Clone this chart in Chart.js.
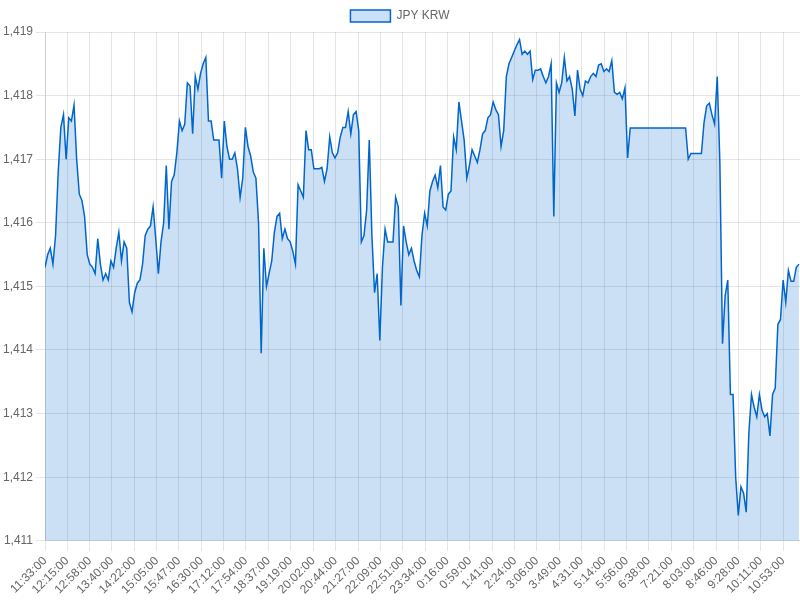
<!DOCTYPE html>
<html>
<head>
<meta charset="utf-8">
<title>JPY KRW</title>
<script src="https://cdn.jsdelivr.net/npm/chart.js@4.4.0/dist/chart.umd.min.js"></script>
<style>
  html, body { margin: 0; padding: 0; background: #fff; }
  #wrap { width: 800px; height: 600px; }
</style>
</head>
<body>
<div id="wrap"><canvas id="rateChart"></canvas></div>
<script>
// Series starts at 11:33:00, one value every 5 minutes, for about 24 hours
const startTime = '11:33:00';
const stepMinutes = 5;
const spanMinutes = 1432;

// Time labels shown under the x axis
const tickLabels = [
  '11:33:00', '12:15:00', '12:58:00', '13:40:00', '14:22:00', '15:05:00', '15:47:00',
  '16:30:00', '17:12:00', '17:54:00', '18:37:00', '19:19:00', '20:02:00', '20:44:00',
  '21:27:00', '22:09:00', '22:51:00', '23:34:00', '0:16:00', '0:59:00', '1:41:00',
  '2:24:00', '3:06:00', '3:49:00', '4:31:00', '5:14:00', '5:56:00', '6:38:00',
  '7:21:00', '8:03:00', '8:46:00', '9:28:00', '10:11:00', '10:53:00'
];

const yTicks = [1411, 1412, 1413, 1414, 1415, 1416, 1417, 1418, 1419];

// JPY KRW rate
const jpyKrw = [
  1415.3, 1415.5, 1415.6, 1415.35, 1415.8, 1416.8, 1417.5, 1417.7, 1417.0, 1417.65,
  1417.6, 1417.85, 1417.0, 1416.45, 1416.35, 1416.1, 1415.5, 1415.35, 1415.3, 1415.2,
  1415.75, 1415.35, 1415.1, 1415.2, 1415.1, 1415.4, 1415.3, 1415.6, 1415.85, 1415.4,
  1415.7, 1415.6, 1414.75, 1414.6, 1414.9, 1415.05, 1415.1, 1415.35, 1415.8, 1415.9,
  1415.95, 1416.25, 1415.75, 1415.2, 1415.7, 1416.0, 1416.9, 1415.9, 1416.65, 1416.75,
  1417.1, 1417.6, 1417.45, 1417.55, 1418.2, 1418.15, 1417.4, 1418.3, 1418.1, 1418.35,
  1418.5, 1418.6, 1417.6, 1417.6, 1417.3, 1417.3, 1417.3, 1416.7, 1417.6, 1417.2,
  1417.0, 1417.0, 1417.1, 1416.85, 1416.4, 1416.7, 1417.5, 1417.2, 1417.05, 1416.8,
  1416.7, 1416.0, 1413.95, 1415.6, 1415.0, 1415.2, 1415.4, 1415.85, 1416.1, 1416.15,
  1415.75, 1415.9, 1415.75, 1415.7, 1415.55, 1415.35, 1416.6, 1416.5, 1416.4, 1417.45,
  1417.15, 1417.15, 1416.85, 1416.85, 1416.85, 1416.87, 1416.65, 1416.85, 1417.35, 1417.1,
  1417.02, 1417.1, 1417.35, 1417.5, 1417.5, 1417.75, 1417.4, 1417.7, 1417.75, 1417.45,
  1415.7, 1415.8, 1416.2, 1417.3, 1415.8, 1414.9, 1415.2, 1414.15, 1415.3, 1415.9,
  1415.7, 1415.7, 1415.7, 1416.4, 1416.25, 1414.7, 1415.95, 1415.7, 1415.5, 1415.6,
  1415.4, 1415.25, 1415.15, 1415.8, 1416.15, 1415.95, 1416.5, 1416.65, 1416.75, 1416.55,
  1416.9, 1416.25, 1416.2, 1416.45, 1416.5, 1417.35, 1417.15, 1417.9, 1417.6, 1417.3,
  1416.7, 1416.9, 1417.15, 1417.05, 1416.95, 1417.15, 1417.4, 1417.45, 1417.65, 1417.7,
  1417.9, 1417.78, 1417.7, 1417.2, 1417.45, 1418.3, 1418.5, 1418.6, 1418.7, 1418.8,
  1418.88, 1418.65, 1418.7, 1418.65, 1418.7, 1418.25, 1418.4, 1418.4, 1418.42, 1418.3,
  1418.2, 1418.3, 1418.5, 1416.1, 1418.2, 1418.05, 1418.2, 1418.6, 1418.23, 1418.3,
  1418.1, 1417.68, 1418.4, 1418.1, 1418.0, 1418.23, 1418.2, 1418.3, 1418.35, 1418.3,
  1418.48, 1418.5, 1418.38, 1418.42, 1418.38, 1418.55, 1418.05, 1418.02, 1418.05, 1417.95,
  1418.12, 1417.02, 1417.49, 1417.49, 1417.49, 1417.49, 1417.49, 1417.49, 1417.49, 1417.49,
  1417.49, 1417.49, 1417.49, 1417.49, 1417.49, 1417.49, 1417.49, 1417.49, 1417.49, 1417.49,
  1417.49, 1417.49, 1417.49, 1417.49, 1417.0, 1417.09, 1417.09, 1417.09, 1417.09, 1417.09,
  1417.58, 1417.84, 1417.88, 1417.7, 1417.55, 1418.3, 1416.95, 1414.1, 1414.85, 1415.1,
  1413.3, 1413.3, 1412.0, 1411.4, 1411.85, 1411.75, 1411.45, 1412.7, 1413.3, 1413.1,
  1412.95, 1413.3, 1413.05, 1412.95, 1413.0, 1412.65, 1413.3, 1413.4, 1414.4, 1414.48,
  1415.1, 1414.75, 1415.25, 1415.08, 1415.08, 1415.3, 1415.35
];

// minutes after the start time, wrapping past midnight
function minutesFromStart(label) {
  const toMin = (s) => {
    const parts = s.split(':');
    return parseInt(parts[0], 10) * 60 + parseInt(parts[1], 10);
  };
  return (toMin(label) - toMin(startTime) + 1440) % 1440;
}

const tickMinutes = tickLabels.map(minutesFromStart);

const points = jpyKrw.map((v, i) => ({ x: i * stepMinutes, y: v }));

Chart.defaults.font.family = "'Helvetica Neue', Helvetica, Arial, 'Liberation Sans', sans-serif";
Chart.defaults.font.size = 12;
Chart.defaults.color = '#666';

const ctx = document.getElementById('rateChart').getContext('2d');
new Chart(ctx, {
  type: 'line',
  data: {
    datasets: [{
      label: 'JPY KRW',
      data: points,
      borderColor: 'rgb(0, 102, 204)',
      backgroundColor: 'rgba(0, 102, 204, 0.2)',
      borderWidth: 1.5,
      pointRadius: 0,
      pointHoverRadius: 0,
      tension: 0,
      fill: 'start'
    }]
  },
  options: {
    responsive: true,
    maintainAspectRatio: false,
    animation: false,
    devicePixelRatio: 1,
    layout: { padding: 0 },
    plugins: {
      legend: {
        display: true,
        position: 'top',
        labels: { boxWidth: 40, boxHeight: 12, padding: 10 }
      },
      tooltip: { enabled: false }
    },
    scales: {
      x: {
        type: 'linear',
        min: 0,
        max: spanMinutes,
        afterBuildTicks: (axis) => {
          axis.ticks = tickMinutes.map((m) => ({ value: m }));
        },
        ticks: {
          autoSkip: false,
          minRotation: 45,
          maxRotation: 45,
          callback: (value) => {
            const k = tickMinutes.indexOf(value);
            return k >= 0 ? tickLabels[k] : null;
          }
        },
        grid: { color: 'rgba(0, 0, 0, 0.1)', tickLength: 10 }
      },
      y: {
        min: yTicks[0],
        max: yTicks[yTicks.length - 1],
        afterBuildTicks: (axis) => {
          axis.ticks = yTicks.map((v) => ({ value: v }));
        },
        ticks: {
          padding: 3,
          callback: (value) => value.toLocaleString('en-US')
        },
        grid: { color: 'rgba(0, 0, 0, 0.1)', tickLength: 9 }
      }
    }
  }
});
</script>
</body>
</html>
